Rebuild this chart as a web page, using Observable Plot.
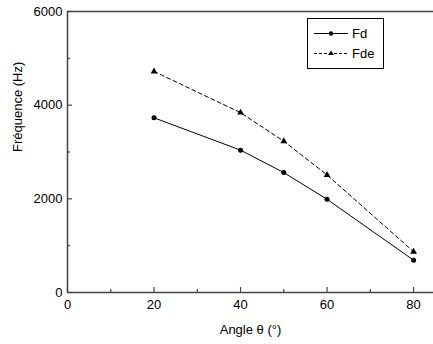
<!DOCTYPE html>
<html><head><meta charset="utf-8">
<script src="https://cdn.jsdelivr.net/npm/d3@7"></script>
<script src="https://cdn.jsdelivr.net/npm/@observablehq/plot@0.6"></script>
<style>
body{margin:0;background:#fff;font-family:"Liberation Sans",Arial,sans-serif;}
#c{position:relative;width:433px;height:344px;overflow:hidden;}
#legend{position:absolute;left:307px;top:18px;width:75px;height:49px;border:1px solid #000;background:#fff;}
</style>
</head><body><div id="c"></div>
<script>
const angles = [20, 40, 50, 60, 80];
const fd = [3730, 3040, 2560, 1990, 690];
const fde = [4720, 3840, 3230, 2510, 870];
const seriesNames = ["Fd", "Fde"];
const xMajor = [0, 20, 40, 60, 80];
const xMinor = [10, 30, 50, 70];
const yMajor = [0, 2000, 4000, 6000];
const yMinor = [1000, 3000, 5000];
const xLabel = "Angle θ (°)";
const yLabel = "Fréquence (Hz)";

const rowsFd = angles.map((a, i) => ({x: a, y: fd[i]}));
const rowsFde = angles.map((a, i) => ({x: a, y: fde[i]}));
const axisColor = "#444";
const W = 433, H = 344, mL = 67, mT = 11, mB = 52, mR = 0;
const fw = W - mL - mR, fh = H - mT - mB;

const chart = Plot.plot({
  width: W, height: H,
  marginLeft: mL, marginTop: mT, marginBottom: mB, marginRight: mR,
  style: {fontFamily: "'Liberation Sans', Arial, sans-serif", fontSize: "13px", color: "#000", background: "#fff"},
  x: {domain: [0, 84.6], label: null},
  y: {domain: [0, 6000], label: null},
  marks: [
    Plot.ruleX([0], {stroke: axisColor, strokeWidth: 1.5}),
    Plot.ruleY([0, 6000], {stroke: axisColor, strokeWidth: 1.5}),
    Plot.tickX(xMajor, {x: d => d, stroke: axisColor, strokeWidth: 1.2, insetTop: fh - 5}),
    Plot.tickX(xMinor, {x: d => d, stroke: axisColor, strokeWidth: 1.2, insetTop: fh - 3}),
    Plot.tickY(yMajor, {y: d => d, stroke: axisColor, strokeWidth: 1.2, insetRight: fw - 5}),
    Plot.tickY(yMinor, {y: d => d, stroke: axisColor, strokeWidth: 1.2, insetRight: fw - 3}),
    Plot.axisX({ticks: xMajor, tickSize: 0, tickPadding: 7, tickFormat: d => String(d), fontSize: 13, label: null}),
    Plot.axisY({ticks: yMajor, tickSize: 0, tickPadding: 5, tickFormat: d => String(d), fontSize: 13, label: null}),
    Plot.text([xLabel], {frameAnchor: "bottom", dy: 41, fontSize: 13}),
    Plot.text([yLabel], {frameAnchor: "left", dx: -50, rotate: -90, fontSize: 13}),
    Plot.line(rowsFde, {x: "x", y: "y", stroke: "#000", strokeWidth: 1, strokeDasharray: "4,3"}),
    Plot.line(rowsFd, {x: "x", y: "y", stroke: "#000", strokeWidth: 1}),
    Plot.dot(rowsFd, {x: "x", y: "y", r: 2.5, fill: "#000", symbol: "circle"}),
    Plot.dot(rowsFde, {x: "x", y: "y", r: 2.5, fill: "#000", symbol: "triangle"})
  ]
});
const c = document.getElementById("c");
c.appendChild(chart);

const lg = document.createElement("div");
lg.id = "legend";
lg.innerHTML = `<svg width="75" height="49" style="display:block">
  <line x1="6" x2="40" y1="14.5" y2="14.5" stroke="#000" stroke-width="1"/>
  <circle cx="23" cy="14.5" r="2.2" fill="#000"/>
  <text x="44" y="19" font-size="13" font-family="Liberation Sans, Arial, sans-serif">${seriesNames[0]}</text>
  <line x1="6" x2="40" y1="34.5" y2="34.5" stroke="#000" stroke-width="1" stroke-dasharray="3,2"/>
  <path d="M23,31.5 L26,36 L20,36 Z" fill="#000"/>
  <text x="44" y="39" font-size="13" font-family="Liberation Sans, Arial, sans-serif">${seriesNames[1]}</text>
</svg>`;
c.appendChild(lg);
</script>
</body></html>
